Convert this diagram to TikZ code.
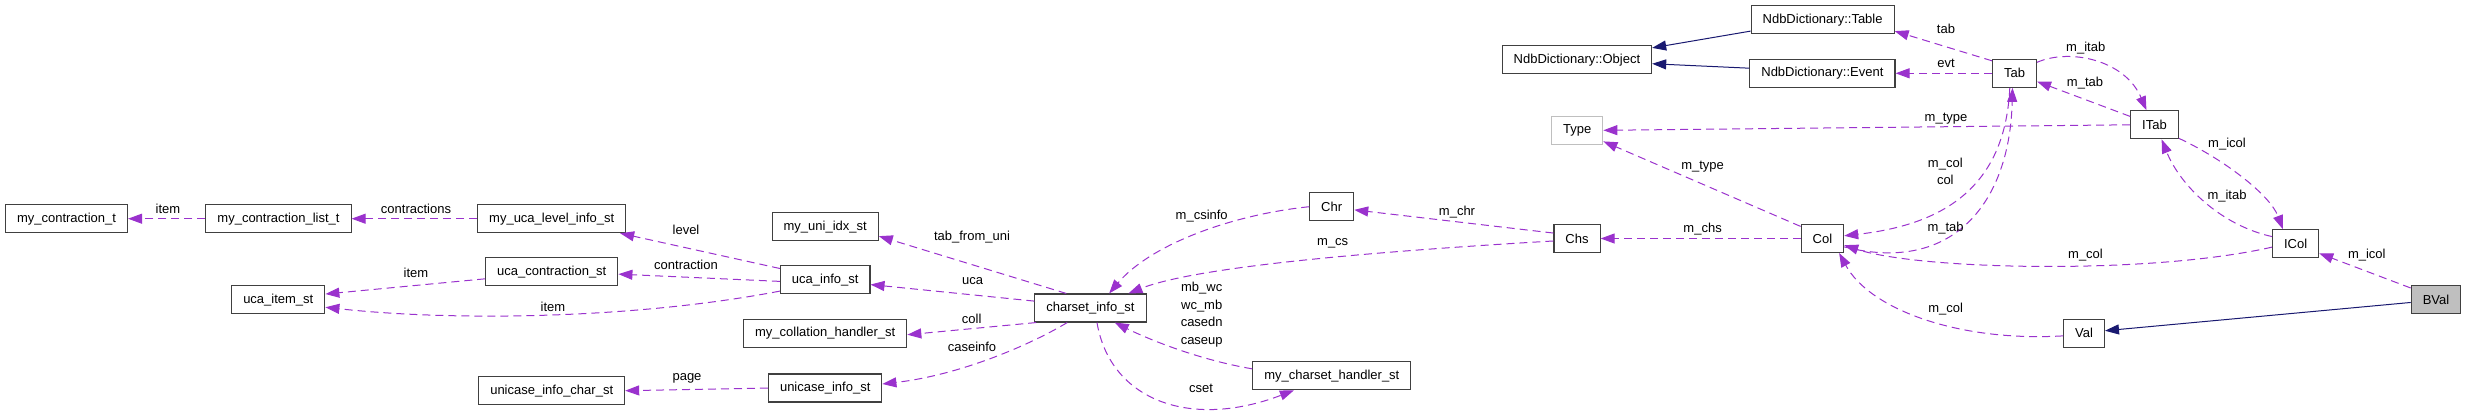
\documentclass[tikz,border=0pt]{standalone}
\usepackage{fontspec}
\setmainfont{Liberation Sans}
\usetikzlibrary{arrows.meta}
\definecolor{depcol}{HTML}{9A32CD}
\definecolor{inhcol}{HTML}{191970}
\definecolor{boxcol}{HTML}{404040}
\definecolor{greycol}{HTML}{BFBFBF}
\begin{document}
\begin{tikzpicture}[x=1pt,y=-1pt,
    cls/.style={draw=boxcol, line width=1.1pt, fill=white, minimum height=28pt,
      inner xsep=11.5pt, inner ysep=0pt, font=\fontsize{13}{15}\selectfont},
    dep/.style={draw=depcol, line width=1pt, dash pattern=on 8pt off 5pt,
      -{Triangle[length=14pt,width=10pt]}},
    inh/.style={draw=inhcol, line width=1pt, -{Triangle[length=14pt,width=10pt]}},
    lbl/.style={font=\fontsize{13}{17.5}\selectfont, inner sep=0pt, align=center}]
    \useasboundingbox (0,0) rectangle (2467,413);

    % Collation side
    \node[cls] (contr) at (66.5,218.7) {my\_contraction\_t};
    \node[cls] (contrlist) at (278.5,218.7) {my\_contraction\_list\_t};
    \node[cls] (levelinfo) at (551.7,218.7) {my\_uca\_level\_info\_st};
    \node[cls] (ucaitem) at (278.3,299.8) {uca\_item\_st};
    \node[cls] (ucacontr) at (551.8,271.8) {uca\_contraction\_st};
    \node[cls] (ucainfo) at (825.2,279.8) {uca\_info\_st};
    \node[cls] (uniidx) at (825.2,226.7) {my\_uni\_idx\_st};
    \node[cls] (collh) at (825.2,333.3) {my\_collation\_handler\_st};
    \node[cls] (unicase) at (825.2,388) {unicase\_info\_st};
    \node[cls] (unicasechar) at (551.7,390.7) {unicase\_info\_char\_st};

    % Charset
    \node[cls] (csinfo) at (1090.5,308) {charset\_info\_st};
    \node[cls] (chr) at (1331.7,206.7) {Chr};
    \node[cls] (cshandler) at (1331.8,375.8) {my\_charset\_handler\_st};
    \node[cls] (chs) at (1577,238.5) {Chs};
    \node[cls] (col) at (1822.4,238.5) {Col};

    % Dictionary
    \node[cls] (ndbtable) at (1822.6,19.7) {NdbDictionary::Table};
    \node[cls] (ndbobject) at (1576.9,59.8) {NdbDictionary::Object};
    \node[cls] (ndbevent) at (1822.4,73.3) {NdbDictionary::Event};
    \node[cls] (tab) at (2014.5,73.3) {Tab};
    \node[cls, draw=greycol] (type) at (1577.2,130.3) {Type};
    \node[cls] (itab) at (2154.5,124.8) {ITab};
    \node[cls] (icol) at (2295.6,243.8) {ICol};
    \node[cls] (val) at (2084,333.3) {Val};
    \node[cls, fill=greycol] (bval) at (2436,299.8) {BVal};

    % Members, left part
    \draw[dep] (contrlist.west) -- (contr.east);
    \node[lbl] at (168,208.7) {item};
    \draw[dep] (levelinfo.west) -- (contrlist.east);
    \node[lbl] at (416,208.7) {contractions};
    \draw[dep] (ucacontr.186) -- (ucaitem.7);
    \node[lbl] at (416,272.7) {item};
    \draw[dep] (ucainfo.194) .. controls (640,318) and (460,322) .. (ucaitem.-9);
    \node[lbl] at (553,306.7) {item};
    \draw[dep] (ucainfo.166) -- (levelinfo.-12);
    \node[lbl] at (686,230) {level};
    \draw[dep] (ucainfo.182) -- (ucacontr.-2);
    \node[lbl] at (686,264.7) {contraction};
    \draw[dep] (unicase.west) -- (unicasechar.east);
    \node[lbl] at (687,378.7) {page};

    % Members of charset_info_st
    \draw[dep] (csinfo.149.5) -- (uniidx.-10);
    \node[lbl] at (972,236.7) {tab\_from\_uni};
    \draw[dep] (csinfo.173.5) -- (ucainfo.-6.6);
    \node[lbl] at (972.7,280.7) {uca};
    \draw[dep] (csinfo.195) -- (collh.-1.7);
    \node[lbl] at (971.7,319.3) {coll};
    \draw[dep] (csinfo.212) .. controls (1030,345) and (960,375) .. (unicase.4.7);
    \node[lbl] at (972,347.3) {caseinfo};
    \draw[dep] (csinfo.-66) .. controls (1110,400) and (1190,430) .. (cshandler.201);
    \node[lbl] at (1201,388.7) {cset};
    \draw[dep] (cshandler.175) .. controls (1200,360) and (1150,340) .. (csinfo.-31.5);
    \node[lbl] at (1201.7,314.5) {mb\_wc\\wc\_mb\\casedn\\caseup};

    % Chr, Chs, Col
    \draw[dep] (chr.west) .. controls (1230,215) and (1150,245) .. (csinfo.38);
    \node[lbl] at (1201.7,215.7) {m\_csinfo};
    \draw[dep] (chs.186) .. controls (1400,250) and (1200,265) .. (csinfo.21);
    \node[lbl] at (1332.7,243.3) {m\_cs};
    \draw[dep] (chs.167.6) -- (chr.-8.7);
    \node[lbl] at (1457,212.3) {m\_chr};
    \draw[dep] (col.west) -- (chs.east);
    \node[lbl] at (1702.6,229) {m\_chs};

    % Inheritance
    \draw[inh] (ndbtable.189.8) -- (ndbobject.9.8);
    \draw[inh] (ndbevent.176.9) -- (ndbobject.-3.9);
    \draw[inh] (bval.186.5) -- (val.7);

    % Tab, ITab, ICol
    \draw[dep] (tab.151) -- (ndbtable.-9.8);
    \node[lbl] at (1946,28.7) {tab};
    \draw[dep] (tab.west) -- (ndbevent.east);
    \node[lbl] at (1946,63.3) {evt};
    \draw[dep] (itab.west) -- (type.east);
    \node[lbl] at (1946,119) {m\_type};
    \draw[dep] (col.151.8) -- (type.-23.8);
    \node[lbl] at (1702.6,166.7) {m\_type};
    \draw[dep] (tab.-108) .. controls (2005,190) and (1940,225) .. (col.7);
    \node[lbl] at (1945.3,171.4) {m\_col\\col};
    \draw[dep] (col.-21) .. controls (1955,275) and (2010,200) .. (tab.-98);
    \node[lbl] at (1945.6,227.7) {m\_tab};
    \draw[dep] (tab.26) .. controls (2070,48) and (2125,60) .. (itab.119);
    \node[lbl] at (2085.7,47.7) {m\_itab};
    \draw[dep] (itab.161.5) -- (tab.-20.7);
    \node[lbl] at (2085,82.7) {m\_tab};
    \draw[dep] (itab.-29) .. controls (2225,160) and (2270,195) .. (icol.131);
    \node[lbl] at (2227,143.7) {m\_icol};
    \draw[dep] (icol.163.5) .. controls (2220,225) and (2180,185) .. (itab.-64);
    \node[lbl] at (2227,196.3) {m\_itab};
    \draw[dep] (icol.188.5) .. controls (2150,275) and (1920,270) .. (col.-17);
    \node[lbl] at (2085.5,255) {m\_col};
    \draw[dep] (bval.155.8) -- (icol.-22);
    \node[lbl] at (2366.8,255) {m\_icol};
    \draw[dep] (val.187) .. controls (1960,342) and (1870,310) .. (col.-41);
    \node[lbl] at (1945.6,309) {m\_col};
\end{tikzpicture}
\end{document}
